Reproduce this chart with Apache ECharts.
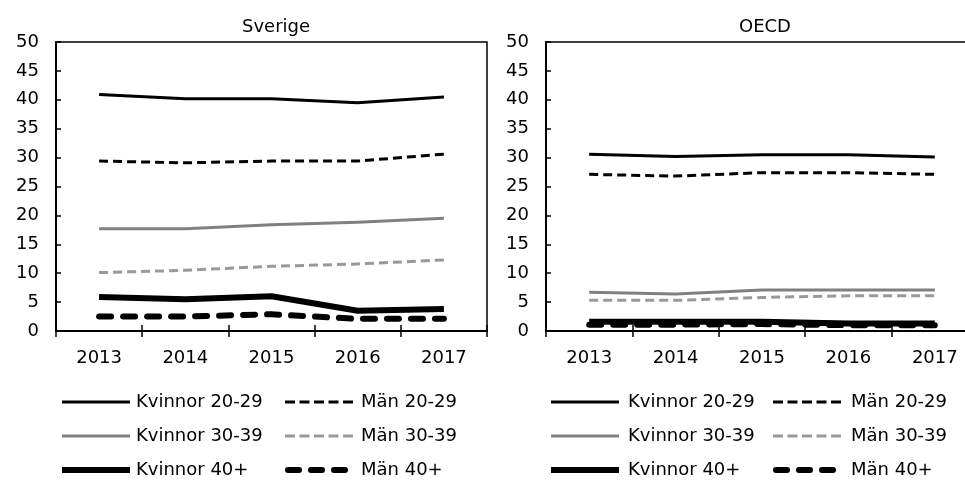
<!DOCTYPE html>
<html>
<head>
<meta charset="utf-8">
<script src="https://cdn.jsdelivr.net/npm/echarts@6/dist/echarts.min.js"></script>
<style>html,body{margin:0;padding:0;background:#fff}#c{width:965px;height:483px}</style>
</head>
<body>
<div id="c"></div>
<script>
const years = ['2013', '2014', '2015', '2016', '2017'];
const seriesNames = ['Kvinnor 20-29', 'Män 20-29', 'Kvinnor 30-39', 'Män 30-39', 'Kvinnor 40+', 'Män 40+'];
const panelTitles = ['Sverige', 'OECD'];

const sverigeK2029 = [40.9, 40.2, 40.2, 39.5, 40.5];
const sverigeM2029 = [29.4, 29.1, 29.4, 29.4, 30.6];
const sverigeK3039 = [17.7, 17.7, 18.4, 18.8, 19.5];
const sverigeM3039 = [10.1, 10.5, 11.2, 11.6, 12.3];
const sverigeK40 = [5.9, 5.5, 6.0, 3.5, 3.8];
const sverigeM40 = [2.5, 2.5, 2.9, 2.1, 2.1];

const oecdK2029 = [30.6, 30.2, 30.5, 30.5, 30.1];
const oecdM2029 = [27.1, 26.8, 27.4, 27.4, 27.1];
const oecdK3039 = [6.7, 6.4, 7.1, 7.1, 7.1];
const oecdM3039 = [5.3, 5.3, 5.8, 6.1, 6.1];
const oecdK40 = [1.6, 1.6, 1.6, 1.3, 1.3];
const oecdM40 = [1.1, 1.1, 1.2, 1.0, 1.0];

const panelData = [
  [sverigeK2029, sverigeM2029, sverigeK3039, sverigeM3039, sverigeK40, sverigeM40],
  [oecdK2029, oecdM2029, oecdK3039, oecdM3039, oecdK40, oecdM40]
];

const FONT = 'DejaVu Sans';
const styles = [
  {color: '#000', width: 3, type: 'solid', cap: 'butt'},
  {color: '#000', width: 3, type: [9, 5], cap: 'butt'},
  {color: '#808080', width: 3, type: 'solid', cap: 'butt'},
  {color: '#999999', width: 3, type: [9, 5], cap: 'butt'},
  {color: '#000', width: 6, type: 'solid', cap: 'butt'},
  {color: '#000', width: 6, type: [12, 12], cap: 'round'}
];

// legend icon geometry (drawn in a 68 x 18 box)
const IW = 68, IH = 18;
function corners() {
  return 'M0,0L0.01,0L0,0.01Z M' + IW + ',' + IH + 'L' + (IW - 0.01) + ',' + IH + 'L' + IW + ',' + (IH - 0.01) + 'Z ';
}
function rectSeg(x, len, w) {
  const y = IH / 2 - w / 2;
  return 'M' + x + ',' + y + 'L' + (x + len) + ',' + y + 'L' + (x + len) + ',' + (y + w) + 'L' + x + ',' + (y + w) + 'Z ';
}
function roundSeg(x, len, w) {
  const r = w / 2, y = IH / 2 - r;
  return 'M' + (x + r) + ',' + y + 'L' + (x + len - r) + ',' + y +
    'A' + r + ',' + r + ' 0 0 1 ' + (x + len - r) + ',' + (y + w) +
    'L' + (x + r) + ',' + (y + w) + 'A' + r + ',' + r + ' 0 0 1 ' + (x + r) + ',' + y + 'Z ';
}
function iconFor(i) {
  const st = styles[i];
  let p = corners();
  if (st.type === 'solid') {
    p += rectSeg(0, IW, st.width);
  } else if (st.cap === 'round') {
    [0, 23, 46].forEach(x => { p += roundSeg(x, 17, st.width); });
  } else {
    [0, 14.5, 29, 43.5, 58].forEach(x => { p += rectSeg(x, 10, st.width); });
  }
  return 'path://' + p;
}

const grids = [
  {left: 56, top: 42, width: 431, height: 289},
  {left: 546, top: 42, width: 432, height: 289}
];

const option = {
  animation: false,
  backgroundColor: '#fff',
  textStyle: {fontFamily: FONT, color: '#000'},
  title: [
    {text: panelTitles[0], left: 237, top: 13, textStyle: {fontFamily: FONT, fontSize: 18, fontWeight: 'normal', color: '#000'}},
    {text: panelTitles[1], left: 734, top: 13, textStyle: {fontFamily: FONT, fontSize: 18, fontWeight: 'normal', color: '#000'}}
  ],
  grid: grids.map(g => Object.assign({show: true, borderColor: '#000', borderWidth: 1.5, backgroundColor: 'transparent', containLabel: false, outerBoundsMode: 'none'}, g)),
  xAxis: [],
  yAxis: [],
  legend: [],
  series: []
};

for (let p = 0; p < 2; p++) {
  option.xAxis.push({
    type: 'category', gridIndex: p, data: years, position: 'bottom', boundaryGap: true,
    axisLine: {show: true, lineStyle: {color: '#000', width: 2}},
    axisTick: {show: true, inside: false, length: 6, lineStyle: {color: '#000', width: 1.5}},
    axisLabel: {fontFamily: FONT, fontSize: 18, color: '#000', margin: 18},
    splitLine: {show: false}
  });
  option.xAxis.push({
    type: 'category', gridIndex: p, data: years, position: 'bottom', boundaryGap: true,
    axisLine: {show: false},
    axisTick: {show: true, inside: true, length: 6, lineStyle: {color: '#000', width: 1.5}},
    axisLabel: {show: false},
    splitLine: {show: false}
  });
  option.yAxis.push({
    type: 'value', gridIndex: p, min: 0, max: 50, interval: 5,
    axisLine: {show: true, lineStyle: {color: '#000', width: 2}},
    axisTick: {show: true, inside: true, length: 5, lineStyle: {color: '#000', width: 1.5}},
    axisLabel: {fontFamily: FONT, fontSize: 18, color: '#000', margin: 17},
    splitLine: {show: false}
  });
  for (let s = 0; s < 6; s++) {
    const st = styles[s];
    option.series.push({
      name: seriesNames[s], type: 'line', xAxisIndex: p * 2, yAxisIndex: p,
      data: panelData[p][s], symbol: 'none', showSymbol: false, silent: true,
      lineStyle: {color: st.color, width: st.width, type: st.type, cap: st.cap, join: 'round'},
      itemStyle: {color: st.color},
      z: 2 + s
    });
  }
}

const legendCols = [
  {left: 62, idx: [0, 2, 4], pad: 1},
  {left: 285, idx: [1, 3, 5], pad: 3},
  {left: 551, idx: [0, 2, 4], pad: 4},
  {left: 773, idx: [1, 3, 5], pad: 5}
];
legendCols.forEach(c => {
  option.legend.push({
    orient: 'vertical', left: c.left, top: 393,
    data: c.idx.map(i => ({name: seriesNames[i], icon: iconFor(i), itemStyle: {color: styles[i].color, borderWidth: 0}})),
    itemWidth: IW, itemHeight: IH, itemGap: 16, padding: 0,
    selectedMode: false,
    itemStyle: {borderWidth: 0},
    textStyle: {fontFamily: FONT, fontSize: 18, color: '#000', padding: [0, 0, 0, c.pad]}
  });
});

const chart = echarts.init(document.getElementById('c'), null, {renderer: 'canvas'});
chart.setOption(option);
</script>
</body>
</html>
